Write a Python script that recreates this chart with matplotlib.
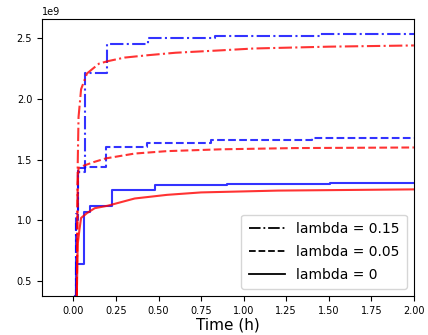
import numpy as np
import matplotlib
matplotlib.use("Agg")
import matplotlib.pyplot as plt
from matplotlib.lines import Line2D

# ── Data (values in units of 1e9, time in hours) ──────────────────────────────
# blue: step curves
t_blue_015 = [0.012, 0.015, 0.025, 0.07, 0.20, 0.44, 0.83, 1.45, 2.0]
y_blue_015 = [0.38, 1.05, 1.43, 2.21, 2.45, 2.50, 2.52, 2.535, 2.535]

t_blue_005 = [0.012, 0.015, 0.025, 0.07, 0.19, 0.43, 0.81, 1.40, 2.0]
y_blue_005 = [0.38, 1.00, 1.40, 1.44, 1.60, 1.64, 1.665, 1.675, 1.675]

t_blue_0 = [0.012, 0.018, 0.065, 0.10, 0.225, 0.48, 0.90, 1.51, 2.0]
y_blue_0 = [0.38, 0.64, 1.07, 1.12, 1.25, 1.29, 1.30, 1.31, 1.31]

# red: smooth curves
t_red_015 = [0.02, 0.025, 0.03, 0.045, 0.08, 0.15, 0.20, 0.30, 0.44, 0.60, 0.87, 1.06, 1.50, 2.0]
y_red_015 = [0.38, 1.45, 1.85, 2.08, 2.21, 2.29, 2.31, 2.34, 2.36, 2.38, 2.40, 2.415, 2.43, 2.44]

t_red_005 = [0.02, 0.025, 0.03, 0.06, 0.12, 0.19, 0.36, 0.55, 0.87, 1.30, 2.0]
y_red_005 = [0.38, 1.30, 1.43, 1.45, 1.48, 1.51, 1.55, 1.57, 1.585, 1.595, 1.60]

t_red_0 = [0.02, 0.025, 0.035, 0.045, 0.08, 0.125, 0.20, 0.36, 0.55, 0.75, 1.20, 2.0]
y_red_0 = [0.38, 0.80, 0.92, 1.02, 1.06, 1.10, 1.12, 1.18, 1.21, 1.23, 1.245, 1.255]

labels = ["lambda = 0.15", "lambda = 0.05", "lambda = 0"]
styles = ["-.", "--", "-"]

fig = plt.figure(figsize=(4.28, 3.35), dpi=100)
ax = fig.add_axes([0.098, 0.116, 0.869, 0.827])

blue_sets = [(t_blue_015, y_blue_015), (t_blue_005, y_blue_005), (t_blue_0, y_blue_0)]
red_sets = [(t_red_015, y_red_015), (t_red_005, y_red_005), (t_red_0, y_red_0)]

for (t, y), ls in zip(blue_sets, styles):
    ax.plot(t, np.array(y) * 1e9, color="blue", alpha=0.8, ls=ls,
            lw=1.5, drawstyle="steps-post")
for (t, y), ls in zip(red_sets, styles):
    ax.plot(t, np.array(y) * 1e9, color="red", alpha=0.8, ls=ls, lw=1.5)

ax.set_xlim(-0.185, 2.0)
ax.set_ylim(0.376e9, 2.657e9)
ax.set_xticks([0.0, 0.25, 0.5, 0.75, 1.0, 1.25, 1.5, 1.75, 2.0])
ax.set_yticks([0.5e9, 1.0e9, 1.5e9, 2.0e9, 2.5e9])
ax.tick_params(labelsize=7)
ax.yaxis.get_offset_text().set_fontsize(7)
ax.set_xlabel("Time (h)", fontsize=11, labelpad=1)

handles = [Line2D([], [], color="black", ls=ls, lw=1.3) for ls in styles]
ax.legend(handles, labels, loc="lower right", fontsize=10,
          handlelength=2.6, labelspacing=0.62, borderpad=0.55)

fig.savefig("out.png", dpi=100)
